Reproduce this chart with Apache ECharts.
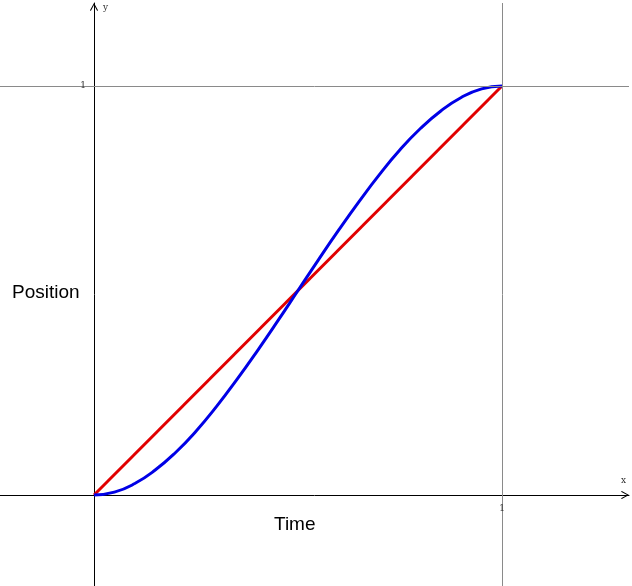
<!DOCTYPE html>
<html>
<head>
<meta charset="utf-8">
<script src="https://cdn.jsdelivr.net/npm/echarts@6/dist/echarts.min.js"></script>
<style>html,body{margin:0;padding:0;background:#fff}#c{width:632px;height:586px}</style>
</head>
<body>
<div id="c"></div>
<script>
// Data
const linearPts = [[0, 0], [1, 1]];
const easePts = [
  [0, 0], [0.05, 0.007], [0.1, 0.028], [0.15, 0.061], [0.2, 0.104], [0.25, 0.156],
  [0.3, 0.216], [0.35, 0.282], [0.4, 0.352], [0.45, 0.425], [0.5, 0.5],
  [0.55, 0.575], [0.6, 0.648], [0.65, 0.718], [0.7, 0.784], [0.75, 0.844],
  [0.8, 0.896], [0.85, 0.939], [0.9, 0.972], [0.95, 0.993], [1, 1]
];
const xTicks = [1];
const yTicks = [1];
const gridX = [1];
const gridY = [1];

const chevron = 'path://M5,0 L10,9 L9,10 L5,2.4 L1,10 L0,9 Z';
const smallFont = {fontFamily: 'DejaVu Serif', fontSize: 9, color: '#333'};

const chart = echarts.init(document.getElementById('c'), null, {renderer: 'canvas'});
chart.setOption({
  animation: false,
  backgroundColor: '#fff',
  grid: {left: 0, right: 3, top: 3, bottom: 0, containLabel: false, outerBoundsMode: 'none'},
  xAxis: {
    type: 'value', min: -94 / 408, max: (629 - 94) / 408,
    axisLine: {show: true, onZero: true, lineStyle: {color: '#000', width: 1},
      symbol: ['none', chevron], symbolSize: [10, 8], symbolOffset: [0, -4]},
    axisTick: {show: true, inside: true, length: 4, customValues: xTicks, lineStyle: {color: '#000'}},
    axisLabel: {show: false},
    splitLine: {show: false}
  },
  yAxis: {
    type: 'value', min: (495 - 586) / 409, max: (495 - 3) / 409,
    axisLine: {show: true, onZero: true, lineStyle: {color: '#000', width: 1},
      symbol: ['none', chevron], symbolSize: [10, 8], symbolOffset: [0, -4]},
    axisTick: {show: true, inside: true, length: 6, customValues: yTicks, lineStyle: {color: '#000'}},
    axisLabel: {show: false},
    splitLine: {show: false}
  },
  series: [
    {
      type: 'line', data: [], silent: true,
      markLine: {
        silent: true, symbol: 'none', label: {show: false}, animation: false,
        lineStyle: {color: '#8a8a8a', width: 1, type: 'solid'},
        data: gridX.map(v => ({xAxis: v})).concat(gridY.map(v => ({yAxis: v})))
      },
      markPoint: {
        silent: true, symbol: 'circle', symbolSize: 0, animation: false,
        data: xTicks.map(v => ({coord: [v, 0], label: {show: true, formatter: String(v), position: 'bottom', distance: 9, ...smallFont}}))
          .concat(yTicks.map(v => ({coord: [0, v], label: {show: true, formatter: String(v), position: 'left', distance: 8, padding: [3, 0, 0, 0], ...smallFont}})))
      }
    },
    {
      type: 'line', data: linearPts, showSymbol: false, silent: true,
      lineStyle: {color: 'rgb(225,0,0)', width: 3}
    },
    {
      type: 'line', data: easePts, showSymbol: false, smooth: true, silent: true,
      lineStyle: {color: 'rgb(0,0,230)', width: 3}
    }
  ],
  graphic: [
    {type: 'text', left: 621, top: 476, style: {text: 'x', font: '9px "DejaVu Serif", serif', fill: '#333'}},
    {type: 'text', left: 103, top: 3, style: {text: 'y', font: '9px "DejaVu Serif", serif', fill: '#333'}},
    {type: 'text', left: 12, top: 283, style: {text: 'Position', font: '19px "Liberation Sans", Arial, sans-serif', fill: '#000'}},
    {type: 'text', left: 274, top: 515, style: {text: 'Time', font: '19px "Liberation Sans", Arial, sans-serif', fill: '#000'}}
  ]
});
</script>
</body>
</html>
